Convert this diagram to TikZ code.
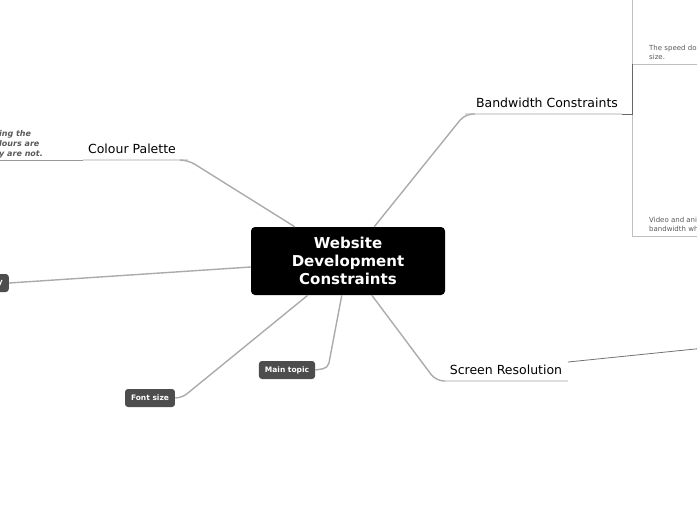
\documentclass[tikz,border=0pt]{standalone}
\usepackage{fontspec}
\setmainfont{DejaVu Sans}
\usetikzlibrary{positioning}
\definecolor{subgray}{HTML}{4D4D4D}
\definecolor{linkgray}{HTML}{ABABAB}

\begin{document}
\begin{tikzpicture}[x=1pt,y=-1pt,
    central/.style={fill=black, rounded corners=4pt, minimum width=194pt, minimum height=68pt, align=center, text=white, font=\fontsize{15}{18}\selectfont\bfseries},
    topic/.style={font=\fontsize{12.5}{15}\selectfont, inner sep=0pt},
    sub/.style={fill=subgray, rounded corners=3pt, text=white, font=\fontsize{7.5}{9}\selectfont\bfseries, minimum height=18pt, inner xsep=6pt, inner ysep=0pt},
    note/.style={font=\fontsize{7}{9}\selectfont, text=black!65, align=left, inner sep=0pt},
    link/.style={draw=linkgray, line width=1.4pt, rounded corners=8pt},
    under/.style={draw=black!13, line width=1.2pt}
]
\useasboundingbox (0,0) rectangle (697,520);
\clip (0,0) rectangle (697,520);

\node[central] (root) at (348,261) {Website\\Development\\Constraints};

% colour palette
\node[topic] (colour) at (132,149) {Colour Palette};
\coordinate (colourR) at (188,160);
\draw[under] (83,160) -- (colourR);
\draw[draw=black!40, line width=0.8pt] (0,160) -- (83,160);
\draw[link] ([xshift=44pt]root.north west) -- (colourR) -- (180,160);
\node[note, anchor=south west, font=\fontsize{8}{10}\selectfont\bfseries\itshape] (palnote) at (-1,158) {ing the\\lours are\\y are not.};

% bandwidth
\node[topic] (band) at (547,103) {Bandwidth Constraints};
\coordinate (bandL) at (465,114);
\draw[under] (bandL) -- (622,114);
\draw[link] ([xshift=-71pt]root.north east) -- (bandL) -- (475,114);
\draw[draw=black!25, line width=0.7pt] (632,-5) rectangle (705,64);
\draw[draw=black!25, line width=0.7pt] (632,64) rectangle (705,236);
\draw[draw=black!60, line width=1pt] (622,114) -- (632,114) -- (632,64);
\node[note, anchor=north west] (speed) at (649,45) {The speed does\\size.};
\node[note, anchor=north west] (video) at (649,217) {Video and anim\\bandwidth wh};

% left
\node[sub, anchor=east, text width=50pt, align=right] (leftsub) at (9,283) {y};
\draw[link] (leftsub.east) -- ([yshift=-6pt]root.west);

% font size, main topic
\node[sub] (font) at (150,398) {Font size};
\draw[link, rounded corners=5pt] (font.east) -- (183,397) -- ([xshift=57pt]root.south west);
\node[sub] (main) at (287,370) {Main topic};
\draw[link, rounded corners=5pt] (main.east) -- (328,368) -- ([xshift=91pt]root.south west);

% screen resolution
\node[topic] (screen) at (506,370) {Screen Resolution};
\coordinate (screenL) at (445,381);
\draw[under] (screenL) -- (568,381);
\draw[link] ([xshift=121pt]root.south west) -- (436,381) -- (screenL);
\draw[draw=black!55, line width=0.8pt] (568,362) -- (705,348);
\end{tikzpicture}
\end{document}
